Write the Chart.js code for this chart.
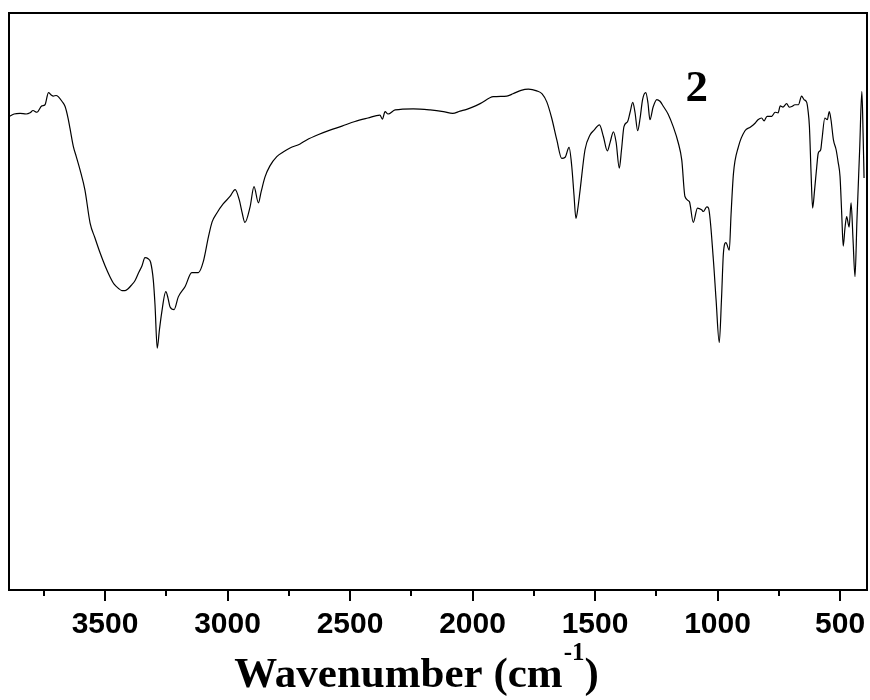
<!DOCTYPE html>
<html>
<head>
<meta charset="utf-8">
<script src="https://cdn.jsdelivr.net/npm/chart.js@4.4.1/dist/chart.umd.min.js"></script>
<style>
  html, body { margin: 0; padding: 0; background: #fff; }
  #wrap { width: 870px; height: 700px; }
</style>
</head>
<body>
<div id="wrap"><canvas id="c" width="870" height="700"></canvas></div>
<script>
// ---- data ----
const wavenumber = [3890,3871,3847,3822,3806,3794,3778,3758,3745,3731,3720,3711,3700,3691,3676,3663,3651,3643,3629,3618,3602,3582,3561,3541,3520,3500,3480,3463,3446,3431,3418,3406,3391,3378,3364,3349,3337,3324,3314,3303,3296,3287,3278,3269,3252,3243,3235,3218,3201,3173,3146,3119,3099,3078,3063,3044,3018,2990,2969,2952,2941,2929,2908,2892,2874,2863,2847,2827,2799,2773,2745,2704,2677,2631,2582,2533,2480,2427,2378,2368,2357,2345,2316,2242,2173,2119,2081,2051,2024,1969,1915,1860,1835,1802,1772,1738,1716,1697,1677,1656,1636,1622,1606,1595,1586,1578,1570,1561,1541,1520,1504,1482,1466,1450,1439,1425,1414,1401,1392,1382,1367,1357,1346,1337,1326,1316,1306,1293,1284,1276,1263,1248,1235,1221,1202,1181,1161,1146,1133,1115,1099,1082,1065,1058,1044,1037,1017,1006,993,984,976,966,952,945,935,915,888,867,847,835,820,810,798,779,765,753,744,733,718,708,697,684,670,657,647,636,631,625,618,612,604,595,589,579,574,562,552,544,537,527,516,508,500,493,487,480,473,463,455,447,439,431,420,411,406,402];
const transmittance = [82.1,82.5,82.6,82.5,82.7,83.1,82.8,83.9,84.1,86.2,85.8,85.6,85.7,85.5,84.7,83.8,81.8,80.0,76.8,75.2,72.8,69.3,63.6,61.0,58.4,56.2,54.3,53.0,52.3,51.9,51.9,52.2,52.9,53.6,54.9,56.2,57.6,57.4,56.8,53.7,49.4,41.9,45.1,48.0,51.7,50.6,49.1,48.6,50.8,52.6,55.0,55.0,56.9,61.2,63.8,65.3,66.9,68.2,69.4,67.6,65.5,63.7,66.4,69.9,67.1,69.0,71.6,73.5,75.1,75.9,76.6,77.3,78.0,78.9,79.7,80.4,81.2,81.8,82.3,81.6,82.9,82.5,83.2,83.4,83.2,82.9,82.6,83.0,83.3,84.3,85.5,85.6,86.0,86.6,86.8,86.5,86.0,84.6,81.8,78.0,74.8,75.0,76.7,73.4,68.5,64.4,66.2,69.3,76.3,78.9,79.7,80.6,78.6,76.1,77.5,79.4,77.6,73.1,76.3,80.3,81.2,82.8,84.5,82.8,79.6,81.8,85.0,86.2,84.4,81.5,83.7,85.0,84.7,83.8,82.5,80.3,77.6,74.5,68.2,67.3,63.7,66.2,65.9,65.6,66.4,66.2,57.2,50.3,42.9,50.3,58.4,60.2,58.9,65.0,72.2,76.8,79.6,80.2,80.9,81.5,81.8,81.3,82.1,82.1,82.8,82.7,83.9,83.7,84.3,83.7,83.8,84.1,84.1,85.6,85.0,84.5,83.2,80.3,71.9,66.2,69.3,73.4,75.7,76.3,78.0,81.8,81.5,82.9,81.5,78.0,76.3,74.2,71.6,65.0,59.6,62.7,64.7,62.9,67.1,60.7,54.3,64.1,76.3,86.4,79.2,71.4];
const majorTicks = [3500, 3000, 2500, 2000, 1500, 1000, 500];
const minorTicks = [3750, 3250, 2750, 2250, 1750, 1250, 750];
const xTitle = "Wavenumber (cm";
const xTitleSup = "-1";
const xTitleEnd = ")";
const sampleLabel = "2";
const sampleLabelAt = [1085, 84.7];   // wavenumber, value (data position of the "2" label)

const points = wavenumber.map((w, i) => ({ x: w, y: transmittance[i] }));
const allTicks = majorTicks.concat(minorTicks).sort((a, b) => b - a);

const framePlugin = {
  id: 'frame',
  afterDraw(chart) {
    const ctx = chart.ctx;
    const a = chart.chartArea;
    const xs = chart.scales.x;
    const ys = chart.scales.y;
    ctx.save();
    ctx.strokeStyle = '#000';
    ctx.lineWidth = 2;
    ctx.strokeRect(a.left, a.top, a.right - a.left, a.bottom - a.top);
    allTicks.forEach(v => {
      const px = Math.round(xs.getPixelForValue(v));
      const len = majorTicks.includes(v) ? 11 : 6;
      ctx.beginPath();
      ctx.moveTo(px, a.bottom);
      ctx.lineTo(px, a.bottom + len);
      ctx.stroke();
    });
    // axis title with superscript
    ctx.fillStyle = '#000';
    ctx.textBaseline = 'alphabetic';
    ctx.textAlign = 'left';
    const big = 'bold 43px "Liberation Serif", "Times New Roman", serif';
    const small = 'bold 25px "Liberation Serif", "Times New Roman", serif';
    ctx.font = big;
    const w1 = ctx.measureText(xTitle).width;
    const w3 = ctx.measureText(xTitleEnd).width;
    ctx.font = small;
    const w2 = ctx.measureText(xTitleSup).width;
    const total = w1 + w2 + w3;
    const cx = 416;
    const x0 = cx - total / 2;
    const base = 687;
    ctx.font = big;
    ctx.fillText(xTitle, x0, base);
    ctx.font = small;
    ctx.fillText(xTitleSup, x0 + w1 + 1, base - 27);
    ctx.font = big;
    ctx.fillText(xTitleEnd, x0 + w1 + w2 + 1, base);
    // sample label
    ctx.font = 'bold 45px "Liberation Serif", "Times New Roman", serif';
    ctx.textAlign = 'center';
    ctx.textBaseline = 'alphabetic';
    ctx.fillText(sampleLabel, xs.getPixelForValue(sampleLabelAt[0]), ys.getPixelForValue(sampleLabelAt[1]));
    ctx.restore();
  }
};

new Chart(document.getElementById('c'), {
  type: 'line',
  data: {
    datasets: [{
      data: points,
      borderColor: '#000',
      borderWidth: 1.2,
      pointRadius: 0,
      fill: false,
      cubicInterpolationMode: 'monotone'
    }]
  },
  options: {
    responsive: false,
    animation: false,
    devicePixelRatio: 1,
    layout: { padding: { left: 9, right: 3, top: 13, bottom: 0 } },
    plugins: { legend: { display: false }, tooltip: { enabled: false } },
    scales: {
      x: {
        type: 'linear',
        reverse: true,
        min: 390,
        max: 3892,
        afterBuildTicks: (scale) => { scale.ticks = allTicks.map(v => ({ value: v })); },
        afterFit: (scale) => { scale.height = 110; scale.paddingLeft = 0; scale.paddingRight = 0; },
        grid: { display: false, drawTicks: true, tickLength: 11 },
        border: { display: false },
        ticks: {
          autoSkip: false,
          maxRotation: 0,
          padding: 6,
          color: '#000',
          font: { family: '"Liberation Sans", Arial, sans-serif', size: 30, weight: 'bold' },
          callback: (v) => majorTicks.includes(v) ? String(v) : ''
        }
      },
      y: {
        display: false,
        min: 0,
        max: 100
      }
    }
  },
  plugins: [framePlugin]
});
</script>
</body>
</html>
